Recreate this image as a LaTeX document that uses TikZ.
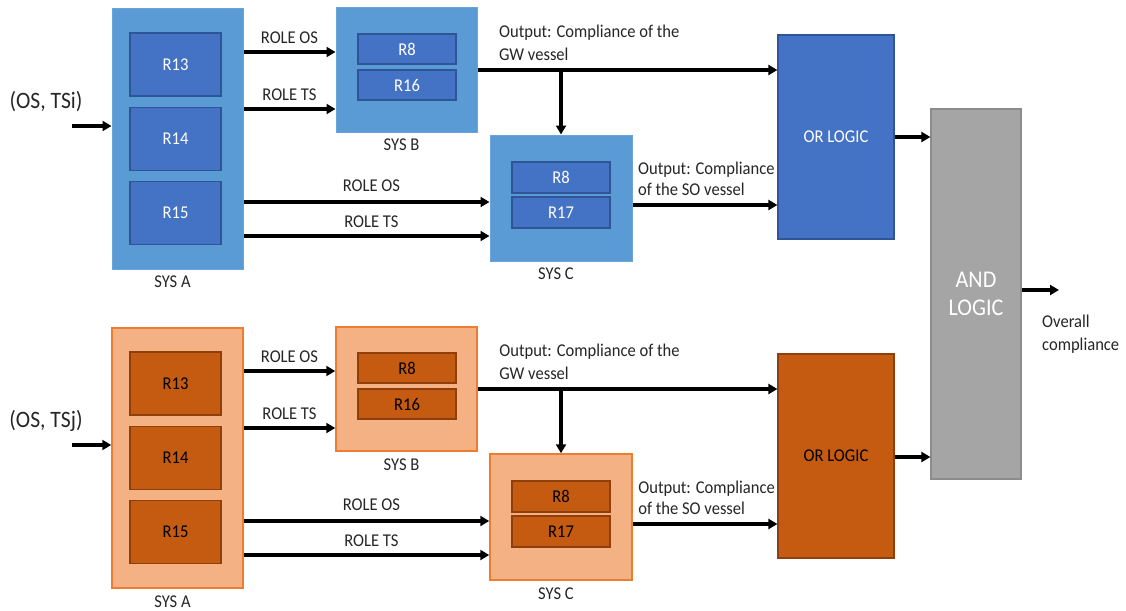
\documentclass[tikz,border=0pt]{standalone}
\usepackage{fontspec}
\setmainfont{Carlito}[FakeStretch=0.92]
\usetikzlibrary{arrows.meta}

\definecolor{blueOut}{HTML}{5B9BD5}
\definecolor{blueOutLine}{HTML}{6AA5DA}
\definecolor{blueIn}{HTML}{4472C4}
\definecolor{blueInLine}{HTML}{2F5597}
\definecolor{orOut}{HTML}{F4B183}
\definecolor{orOutLine}{HTML}{ED7D31}
\definecolor{orIn}{HTML}{C55A11}
\definecolor{orInLine}{HTML}{8E3F0B}
\definecolor{andFill}{HTML}{A5A5A5}
\definecolor{andLine}{HTML}{8C8C8C}
\definecolor{ink}{HTML}{262626}

\tikzset{
  txt/.style={font=\fontsize{18}{22.5}\selectfont, text=ink},
  arr/.style={line width=3.2pt, draw=black, -{Triangle[length=9pt,width=10pt]}},
  blueSys/.style={fill=blueOut, draw=blueOutLine, line width=1pt, inner sep=0pt},
  blueRule/.style={fill=blueIn, draw=blueInLine, line width=1.2pt, inner sep=0pt, txt, text=white},
  orSys/.style={fill=orOut, draw=orOutLine, line width=1.5pt, inner sep=0pt},
  orRule/.style={fill=orIn, draw=orInLine, line width=1.2pt, inner sep=0pt, txt, text=black},
  sysname/.style={txt, anchor=north, inner sep=0pt, yshift=-6.5pt, xshift=-5pt},
  rolelab/.style={txt, above=4pt, inner sep=3pt},
}

% One row of systems: #1 name suffix, #2 vertical offset, #3 system style,
% #4 rule style, #5 input label
\newcommand\systemrow[5]{%
\begin{scope}[shift={(0,#2)}]
  % SYS A with rules R13, R14, R15
  \node[#3, minimum width=131pt, minimum height=260pt] (sysA#1) at (177.5,139) {};
  \node[#4, minimum width=91pt, minimum height=63pt] (rA13#1) at (175.5,64.5) {R13};
  \node[#4, minimum width=91pt, minimum height=63pt] (rA14#1) at (175.5,139) {R14};
  \node[#4, minimum width=91pt, minimum height=63pt] (rA15#1) at (175.5,213) {R15};
  \node[sysname] (labA#1) at (sysA#1.south) {SYS A};
  % SYS B with rules R8, R16
  \node[#3, minimum width=141pt, minimum height=124pt] (sysB#1) at (406.5,70) {};
  \node[#4, minimum width=98pt, minimum height=30pt] (rB8#1) at (407,49) {R8};
  \node[#4, minimum width=98pt, minimum height=30pt] (rB16#1) at (407,85) {R16};
  \node[sysname] (labB#1) at (sysB#1.south) {SYS B};
  % SYS C with rules R8, R17
  \node[#3, minimum width=142pt, minimum height=126pt] (sysC#1) at (561,198) {};
  \node[#4, minimum width=98pt, minimum height=31pt] (rC8#1) at (561,177.5) {R8};
  \node[#4, minimum width=98pt, minimum height=31pt] (rC17#1) at (561,212.5) {R17};
  \node[sysname] (labC#1) at (sysC#1.south) {SYS C};
  % OR gate of the row
  \node[#4, minimum width=116pt, minimum height=204pt] (orL#1) at (836,137) {OR LOGIC};
  % input
  \node[txt, font=\fontsize{23.5}{26}\selectfont, inner sep=0pt] (inlab#1) at (46,102) {#5};
  \coordinate (in#1) at (72,126);
  \draw[arr] (in#1) -- (sysA#1.west |- in#1);
  % roles passed from SYS A to SYS B
  \draw[arr] (sysA#1.east |- 0,52) -- node[rolelab] {ROLE OS} (sysB#1.west |- 0,52);
  \draw[arr] (sysA#1.east |- 0,109) -- node[rolelab] {ROLE TS} (sysB#1.west |- 0,109);
  % roles passed from SYS A to SYS C
  \draw[arr] (sysA#1.east |- 0,202) -- node[rolelab, pos=0.52, above=2pt] {ROLE OS} (sysC#1.west |- 0,202);
  \draw[arr] (sysA#1.east |- 0,236) -- node[rolelab, pos=0.52] {ROLE TS} (sysC#1.west |- 0,236);
  % outputs of SYS B and SYS C
  \draw[arr] (sysB#1.east) -- (orL#1.west |- sysB#1.east)
    node[txt, pos=0, anchor=south west, inner sep=0pt, xshift=20pt, yshift=8pt, align=left]
    {Output: Compliance of the\\GW vessel};
  \coordinate (gw#1) at (sysC#1.north |- sysB#1.east);
  \draw[arr] (gw#1) -- (sysC#1.north);
  \draw[arr] (sysC#1.east |- 0,205) -- (orL#1.west |- 0,205)
    node[txt, pos=0, anchor=south west, inner sep=0pt, xshift=4pt, yshift=8pt, align=left,
         font=\fontsize{18}{21}\selectfont]
    {Output: Compliance\\of the SO vessel};
\end{scope}}

\begin{document}
\begin{tikzpicture}[x=1pt,y=-1pt]
\useasboundingbox[fill=white] (0,0) rectangle (1126,610);

\systemrow{t}{0}{blueSys}{blueRule}{(OS, TSi)}
\systemrow{b}{319}{orSys}{orRule}{(OS, TSj)}

% AND gate combining both rows
\node[fill=andFill, draw=andLine, line width=1.2pt, minimum width=90pt, minimum height=370pt,
      inner sep=0pt, align=center, text=white, font=\fontsize{24}{28}\selectfont]
      (andL) at (976,294) {AND\\LOGIC};
\draw[arr] (orLt.east) -- (andL.west |- orLt.east);
\draw[arr] (orLb.east |- 0,457) -- (andL.west |- 0,457);

\coordinate (outEnd) at (1059,290);
\draw[arr] (andL.east |- outEnd) -- (outEnd);
\node[txt, anchor=north west, inner sep=0pt, align=left] (overall) at (1042,315)
  {Overall\\compliance};
\end{tikzpicture}
\end{document}
